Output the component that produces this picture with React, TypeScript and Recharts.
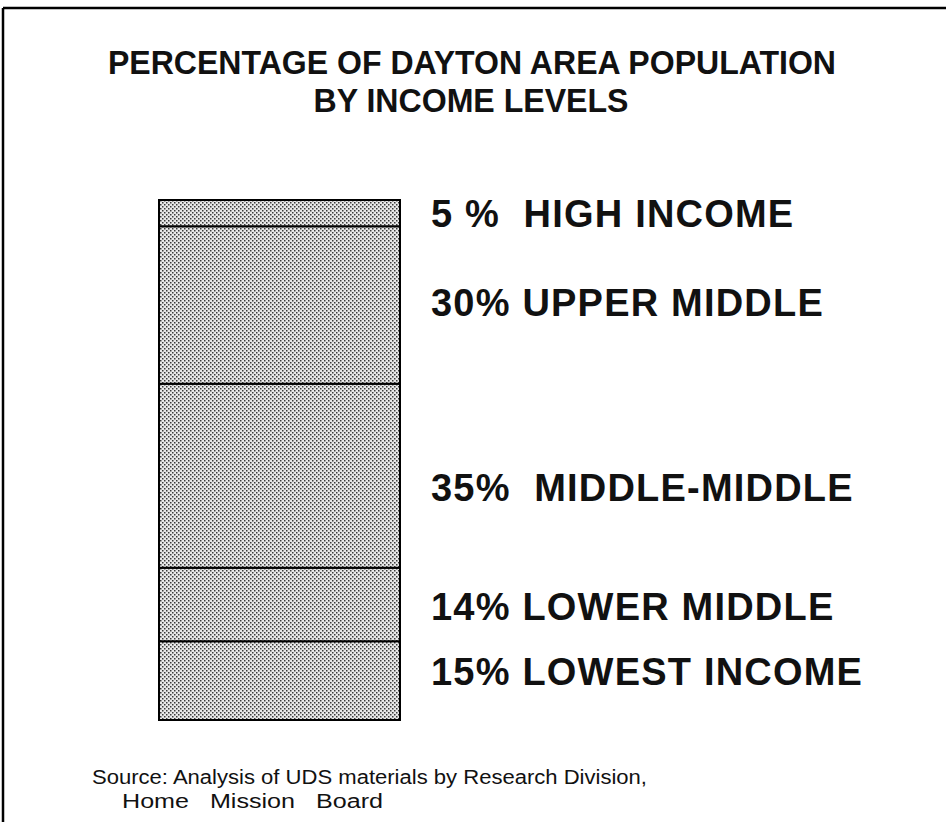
import { BarChart, Bar, XAxis, YAxis, LabelList } from 'recharts';

// bottom to top, as the bars stack
const segmentKeys = ['lowest', 'lowerMiddle', 'middleMiddle', 'upperMiddle', 'high'];
const segmentValues = [15, 14, 35, 30, 5];
const segmentLabels = [
  '15% LOWEST INCOME',
  '14% LOWER MIDDLE',
  '35%  MIDDLE-MIDDLE',
  '30% UPPER MIDDLE',
  '5 %  HIGH INCOME',
];

const titleLines = ['PERCENTAGE OF DAYTON AREA POPULATION', 'BY INCOME LEVELS'];
const sourceLines = ['Source: Analysis of UDS materials by Research Division,', 'Home   Mission   Board'];

const row: Record<string, string | number> = { name: 'Dayton' };
segmentKeys.forEach((k, i) => {
  row[k] = segmentValues[i];
});
const data = [row];

const font = '"Liberation Sans", Arial, Helvetica, sans-serif';

// labels in the original are not all exactly centred on their segment
const labelNudge: Record<string, number> = {
  lowest: -9,
  lowerMiddle: 2,
  middleMiddle: 12,
  upperMiddle: -3,
  high: 0,
};

function makeLabel(key: string, text: string) {
  return (props: any) => {
    const { x, y, width, height } = props;
    return (
      <text
        x={Number(x) + Number(width) + 31}
        y={Number(y) + Number(height) / 2 + labelNudge[key]}
        dy="0.36em"
        fontFamily={font}
        fontWeight="bold"
        fontSize={38}
        letterSpacing={1.2}
        fill="#111"
        style={{ whiteSpace: 'pre' }}
      >
        {text}
      </text>
    );
  };
}

export default function App() {
  return (
    <div style={{ position: 'relative', width: 946, height: 822, background: '#fff', overflow: 'hidden' }}>
      <style>{`body{margin:0}`}</style>
      <BarChart
        width={946}
        height={822}
        data={data}
        margin={{ top: 200, right: 546, bottom: 102, left: 159 }}
        barCategoryGap={0}
        style={{ position: 'absolute', left: 0, top: 0 }}
      >
        <defs>
          <pattern id="halftone" width="4" height="4" patternUnits="userSpaceOnUse">
            <rect width="4" height="4" fill="#e8e8e8" />
            <rect x="0" y="0" width="1.5" height="1.5" fill="#3a3a3a" />
            <rect x="2" y="2" width="1.5" height="1.5" fill="#3a3a3a" />
          </pattern>
        </defs>
        <XAxis dataKey="name" hide />
        <YAxis hide domain={[0, 99]} />
        {segmentKeys.map((k, i) => (
          <Bar
            key={k}
            dataKey={k}
            stackId="a"
            fill="url(#halftone)"
            stroke="#000"
            strokeWidth={2}
            isAnimationActive={false}
          >
            <LabelList dataKey={k} content={makeLabel(k, segmentLabels[i])} />
          </Bar>
        ))}
      </BarChart>
      <svg width={946} height={822} style={{ position: 'absolute', left: 0, top: 0, pointerEvents: 'none' }}>
        <line x1={3} y1={8} x2={946} y2={8} stroke="#000" strokeWidth={2.5} />
        <line x1={3} y1={8} x2={3} y2={822} stroke="#000" strokeWidth={2.5} />
        <text
          x={472}
          y={74}
          textAnchor="middle"
          fontFamily={font}
          fontWeight="bold"
          fontSize={33}
          textLength={728}
          lengthAdjust="spacingAndGlyphs"
          fill="#111"
        >
          {titleLines[0]}
        </text>
        <text
          x={471}
          y={112}
          textAnchor="middle"
          fontFamily={font}
          fontWeight="bold"
          fontSize={33}
          textLength={315}
          lengthAdjust="spacingAndGlyphs"
          fill="#111"
        >
          {titleLines[1]}
        </text>
        <text x={92} y={784} fontFamily={font} fontSize={20} textLength={555} lengthAdjust="spacingAndGlyphs" fill="#111">
          {sourceLines[0]}
        </text>
        <text
          x={122}
          y={808}
          fontFamily={font}
          fontSize={20}
          textLength={261}
          lengthAdjust="spacingAndGlyphs"
          fill="#111"
          style={{ whiteSpace: 'pre' }}
        >
          {sourceLines[1]}
        </text>
      </svg>
    </div>
  );
}
